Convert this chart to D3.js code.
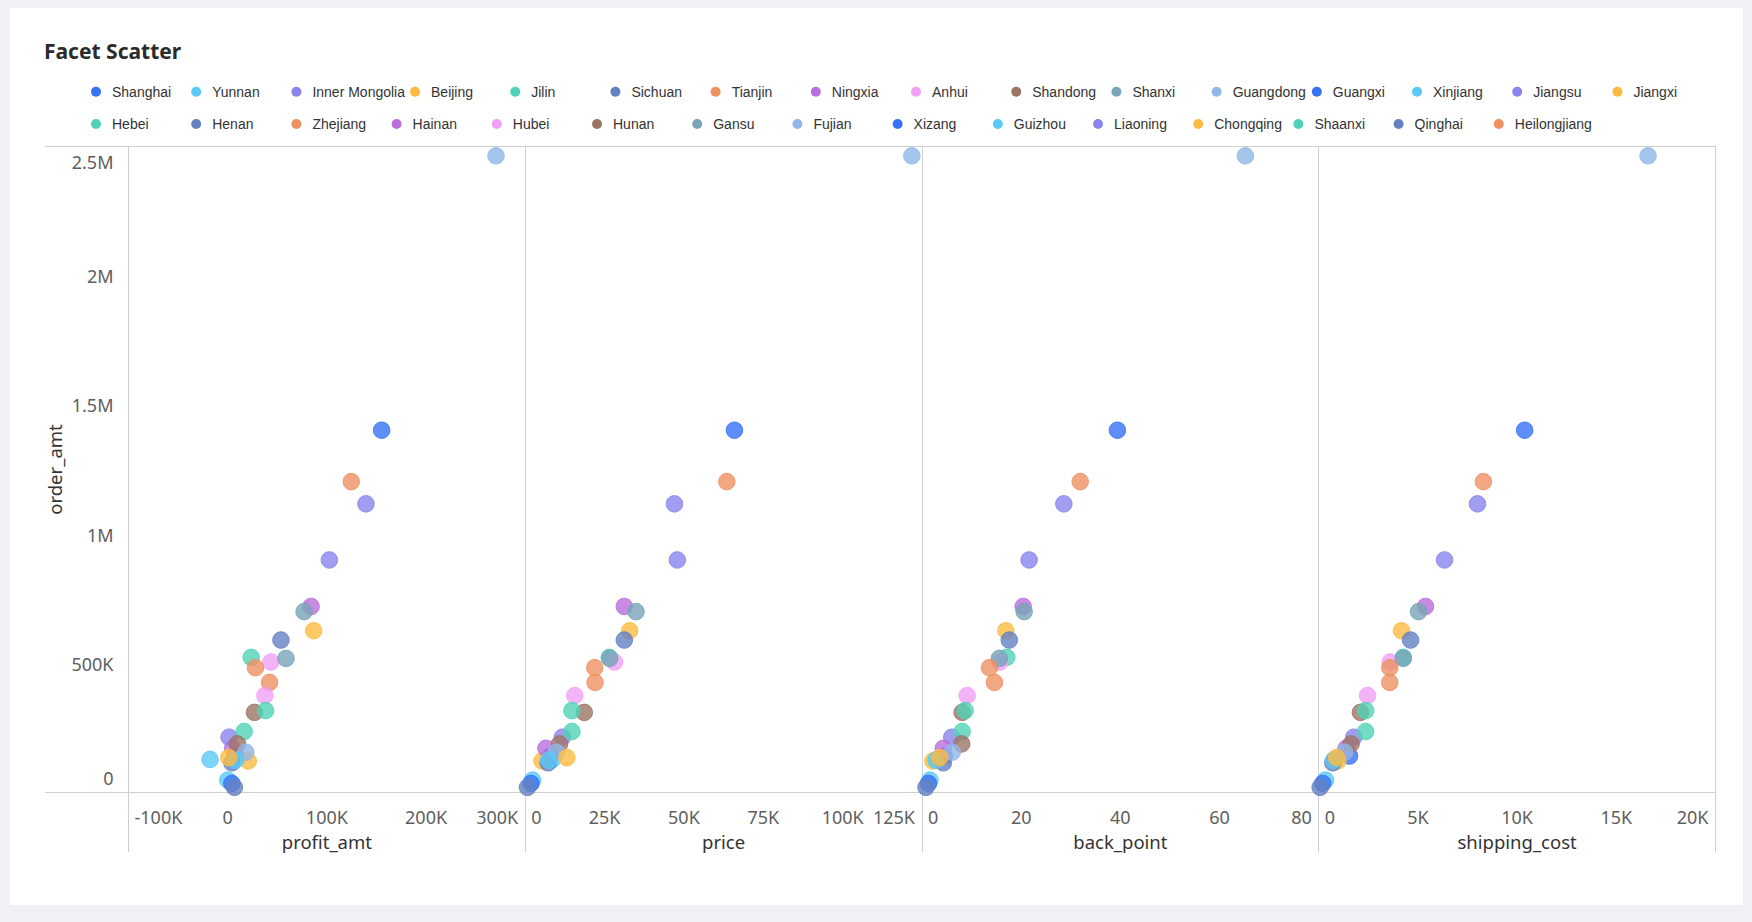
<!DOCTYPE html>
<html><head><meta charset="utf-8">
<script src="https://cdn.jsdelivr.net/npm/d3@7"></script>
<style>
html,body{margin:0;padding:0;background:#eff1f5;}
svg{display:block;}
</style></head><body>
<svg id="chart" width="1752" height="922"></svg>
<script>
// ---------------- data ----------------
const provinces = ["Shanghai","Yunnan","Inner Mongolia","Beijing","Jilin","Sichuan","Tianjin","Ningxia","Anhui","Shandong","Shanxi","Guangdong","Guangxi","Xinjiang","Jiangsu","Jiangxi","Hebei","Henan","Zhejiang","Hainan","Hubei","Hunan","Gansu","Fujian","Xizang","Guizhou","Liaoning","Chongqing","Shaanxi","Qinghai","Heilongjiang"];
const orderAmt     = [1402000,128000,214000,626000,236000,590000,426000,720000,375000,310000,700000,2464000,141000,48000,1117000,122000,523000,115000,1203000,171000,505000,188000,519000,156000,35000,125000,900000,135000,317000,20000,483000];
const profitAmt    = [155200,-17800,1400,86700,16600,53700,42200,84100,37500,27000,77000,270500,8000,100,139400,20700,23700,4200,124600,5000,43600,9800,58800,18300,4200,8000,102500,1100,38200,6800,28000];
const price        = [65900,8600,11700,32900,14700,31200,22000,31200,15600,18600,34900,121800,8000,2300,47000,5300,26500,7200,63500,6500,28100,10800,26600,9800,1800,7400,47900,13100,14700,700,21900];
const backPoint    = [39.4,3.0,6.0,16.9,8.1,17.6,14.6,20.4,9.1,8.1,20.6,65.2,4.5,1.6,28.6,2.2,17.1,4.3,31.9,4.3,15.7,8.0,15.6,6.1,1.3,2.8,21.6,3.6,8.7,0.8,13.6];
const shippingCost = [10380,800,1770,4170,2360,4630,3580,5380,2460,2100,5030,16600,1550,340,8000,960,4260,710,8300,1380,3600,1630,4260,1300,200,750,6340,900,2370,70,3580];

const palette = ["#3772F6","#5BC9F6","#8A84EC","#FDBB41","#51D2B7","#6481C2","#EE9161","#B96FDB","#F0A0F5","#9E7465","#78A5B8","#90B7E6"];

const yTicks = [0,500000,1000000,1500000,2000000,2500000];
const profitTicks = [-100000,0,100000,200000,300000];
const priceTicks = [0,25000,50000,75000,100000,125000];
const backPointTicks = [0,20,40,60,80];
const shippingTicks = [0,5000,10000,15000,20000];
const facetFields = ["profit_amt","price","back_point","shipping_cost"];
const facetValues = [profitAmt, price, backPoint, shippingCost];
const facetTicks = [profitTicks, priceTicks, backPointTicks, shippingTicks];

// ---------------- layout ----------------
const svg = d3.select("#chart");
const plotL = 128.5, plotR = 1715.5, plotT = 146.5, plotB = 792.5;
const lineL = 44.5, vLineBottom = 852;
const gridColor = "#cfcfcf";
const tickColor = "#5e5e5e";
const titleColor = "#333";
const tickFont = "'Noto Sans', 'Open Sans', sans-serif";

svg.append("rect").attr("x",10).attr("y",8).attr("width",1733).attr("height",897).attr("fill","#fff");

svg.append("text").attr("x",44).attr("y",59)
  .attr("font-family","'Noto Sans', sans-serif").attr("font-weight","bold")
  .attr("font-size",21).attr("fill","#2b2b2b").text("Facet Scatter");

const fmt = v => {
  if (v === 0) return "0";
  const a = Math.abs(v);
  if (a >= 1e6) return (v/1e6) + "M";
  if (a >= 1e3) return (v/1e3) + "K";
  return String(v);
};
const color = i => palette[i % palette.length];

// ---------------- legend ----------------
const legend = svg.append("g");
let lx = 89, ly = 91.7;
const rowH = 32.3, maxX = 1720, minItemW = 100.2;
provinces.forEach((p, i) => {
  const g = legend.append("g");
  g.append("circle").attr("r",5).attr("fill",color(i));
  const t = g.append("text").attr("x",16).attr("dy","0.35em")
    .attr("font-family","'Liberation Sans', Arial, sans-serif").attr("font-size",14)
    .attr("fill","#333").text(p);
  const tw = t.node().getComputedTextLength();
  const w = Math.max(minItemW, 23 + tw + 3);
  if (lx + w > maxX) { lx = 89; ly += rowH; }
  g.attr("transform", `translate(${lx + 7},${ly})`);
  lx += w;
});

// ---------------- y scale & axis ----------------
const y = d3.scaleLinear().domain([0, 2500000]).range([plotB, plotT]);

const grid = svg.append("g").attr("stroke", gridColor).attr("stroke-width",1).attr("shape-rendering","crispEdges");
grid.append("line").attr("x1",lineL).attr("x2",plotR).attr("y1",y(2500000)).attr("y2",y(2500000));
grid.append("line").attr("x1",lineL).attr("x2",plotR).attr("y1",y(0)).attr("y2",y(0));

const yAxisG = svg.append("g");
yTicks.forEach((t, i) => {
  let yy = y(t) + 7.5;
  if (i === 0) yy = y(t) - 8;
  if (i === yTicks.length - 1) yy = y(t) + 22.5;
  yAxisG.append("text").attr("x",113.5).attr("y",yy).attr("text-anchor","end")
    .attr("font-family",tickFont).attr("font-size",18).attr("fill",tickColor).text(fmt(t));
});
svg.append("text").attr("transform",`translate(55.5,${(plotT+plotB)/2}) rotate(-90)`)
  .attr("text-anchor","middle").attr("dy","0.35em")
  .attr("font-family",tickFont).attr("font-size",18.5).attr("fill",titleColor).text("order_amt");

// ---------------- facets ----------------
const panelW = (plotR - plotL) / facetFields.length;
for (let k = 0; k <= facetFields.length; k++) {
  const xx = plotL + k * panelW;
  grid.append("line").attr("x1",xx).attr("x2",xx).attr("y1",plotT).attr("y2",vLineBottom);
}

facetFields.forEach((field, k) => {
  const ticks = facetTicks[k];
  const x0 = plotL + k * panelW;
  const x = d3.scaleLinear().domain([ticks[0], ticks[ticks.length-1]]).range([x0, x0 + panelW]);
  const g = svg.append("g");
  ticks.forEach((t, i) => {
    let anchor = "middle", xx = x(t);
    if (i === 0) { anchor = "start"; xx = x(t) + 6; }
    if (i === ticks.length - 1) { anchor = "end"; xx = x(t) - 7; }
    g.append("text").attr("x",xx).attr("y",823.5).attr("text-anchor",anchor)
      .attr("font-family",tickFont).attr("font-size",18).attr("fill",tickColor).text(fmt(t));
  });
  g.append("text").attr("x",x0 + panelW/2).attr("y",848.5).attr("text-anchor","middle")
    .attr("font-family",tickFont).attr("font-size",18.5).attr("fill",titleColor).text(field);

  const vals = facetValues[k];
  g.append("g").selectAll("circle").data(provinces).join("circle")
    .attr("cx",(d,i) => x(vals[i]))
    .attr("cy",(d,i) => y(orderAmt[i]))
    .attr("r",8.3)
    .attr("fill",(d,i) => color(i)).attr("fill-opacity",0.8)
    .attr("stroke",(d,i) => color(i)).attr("stroke-opacity",0.85).attr("stroke-width",1);
});
</script>
</body></html>
